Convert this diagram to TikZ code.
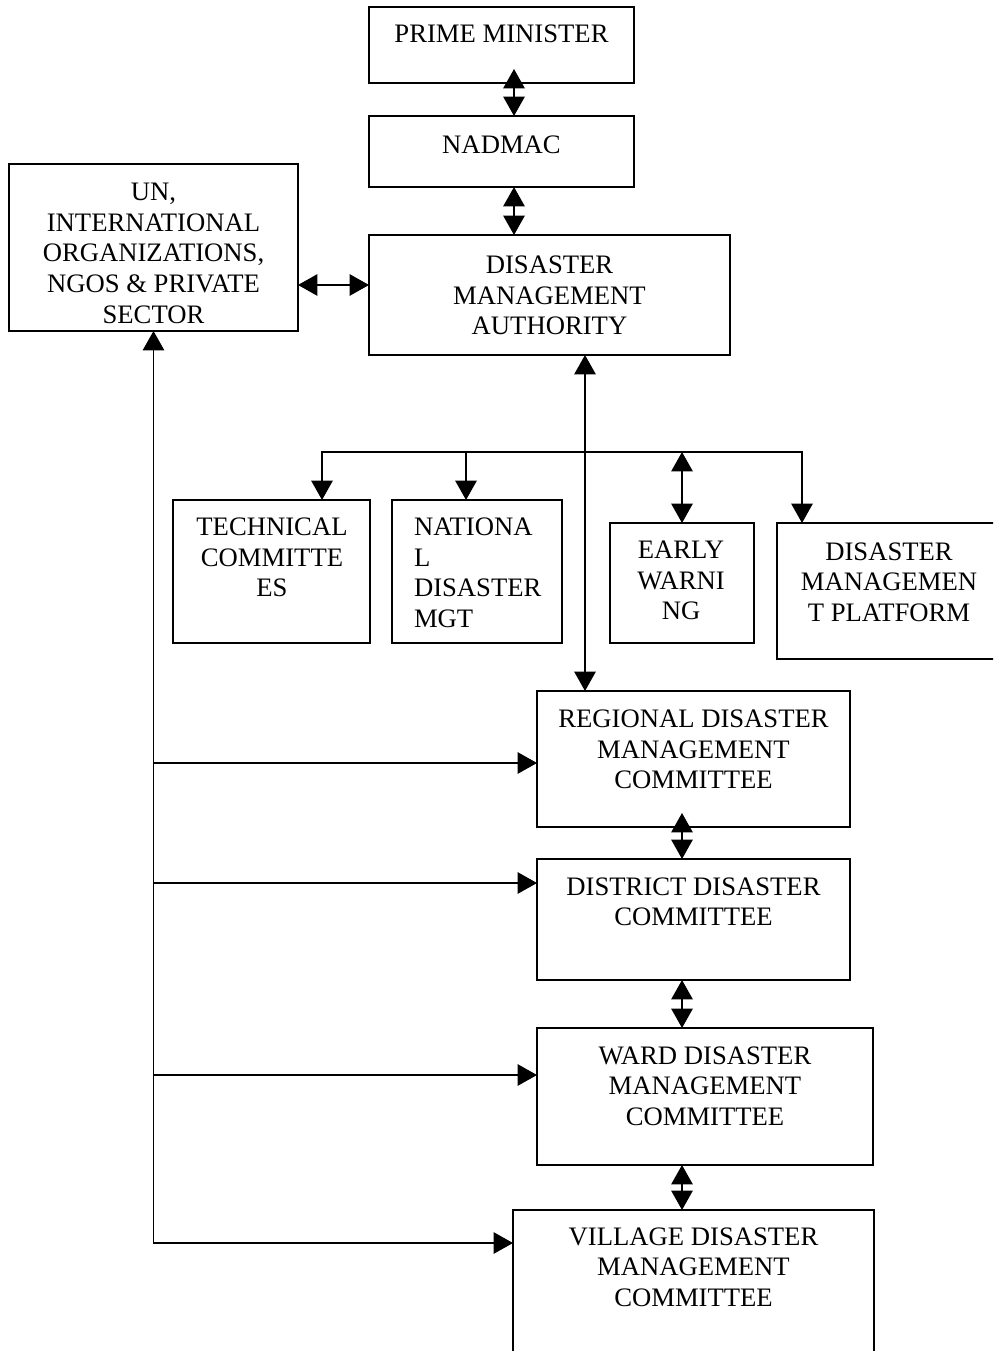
\documentclass[tikz,border=0pt]{standalone}
\usepackage{fontspec}
\setmainfont{Liberation Serif}
\usetikzlibrary{arrows.meta}
\tikzset{
  orgbox/.style={draw, line width=1.3pt, inner sep=0pt, outer sep=0pt},
  txt/.style={font=\fontsize{20}{23}\selectfont, align=center, inner sep=0pt, outer sep=0pt},
  txtl/.style={txt, align=left},
  conn/.style={line width=1.2pt},
  bigtri/.tip={Triangle[length=14.5pt,width=16pt]},
  one/.style={conn, -bigtri},
  both/.style={conn, bigtri-bigtri},
}
\newcommand\orgnode[5]{\node[orgbox, anchor=north west, minimum width={(#4-#2)*0.75pt}, minimum height={(#5-#3)*0.75pt}] (#1) at (#2,#3) {};}
\begin{document}
\begin{tikzpicture}[x=0.75pt,y=-0.75pt]
\useasboundingbox (0,0) rectangle (993,1351);
\clip (0,0) rectangle (993,1351);
% boxes
\orgnode{pm}{369}{7}{634}{83}
\orgnode{nadmac}{369}{116}{634}{187}
\orgnode{dma}{369}{235}{730}{355}
\orgnode{un}{9}{164}{298}{331}
\orgnode{tech}{173}{500}{370}{643}
\orgnode{natl}{392}{500}{562}{643}
\orgnode{early}{610}{523}{754}{643}
\orgnode{dmp}{777}{523}{1001}{659}
\orgnode{regional}{537}{691}{850}{827}
\orgnode{district}{537}{859}{850}{980}
\orgnode{ward}{537}{1028}{873}{1165}
\orgnode{village}{513}{1210}{874}{1380}
% texts
\node[txt, anchor=north] (pmt) at (501.5,25) {PRIME MINISTER};
\node[txt, anchor=north] (nadmact) at (501.5,136) {NADMAC};
\node[txt, anchor=north] (dmat) at (549.5,256) {DISASTER\\MANAGEMENT\\AUTHORITY};
\node[txt, anchor=north] (unt) at (153.5,183) {UN,\\INTERNATIONAL\\ORGANIZATIONS,\\NGOS \& PRIVATE\\SECTOR};
\node[txt, anchor=north] (techt) at (272,518) {TECHNICAL\\COMMITTE\\ES};
\node[txtl, anchor=north west] (natlt) at (414,518) {NATIONA\\L\\DISASTER\\MGT};
\node[txt, anchor=north] (earlyt) at (681,541) {EARLY\\WARNI\\NG};
\node[txt, anchor=north] (dmpt) at (889,542.5) {DISASTER\\MANAGEMEN\\T PLATFORM};
\node[txt, anchor=north] (regionalt) at (693.5,710) {REGIONAL DISASTER\\MANAGEMENT\\COMMITTEE};
\node[txt, anchor=north] (districtt) at (693.5,877.5) {DISTRICT DISASTER\\COMMITTEE};
\node[txt, anchor=north] (wardt) at (705,1046.5) {WARD DISASTER\\MANAGEMENT\\COMMITTEE};
\node[txt, anchor=north] (villaget) at (693.5,1227.5) {VILLAGE DISASTER\\MANAGEMENT\\COMMITTEE};
% connectors
\coordinate (c1) at (514,69);
\draw[both] (c1) -- (c1 |- nadmac.north);
\draw[both] (nadmac.south -| c1) -- (dma.north -| c1);
\coordinate (c2) at (0,285);
\draw[both] (un.east |- c2) -- (dma.west |- c2);
\coordinate (c3) at (585,0);
\draw[both] (dma.south -| c3) -- (regional.north -| c3);
\coordinate (bl) at (322,452);
\coordinate (bn) at (466,452);
\coordinate (be) at (682,452);
\coordinate (br) at (802,452);
\draw[both] (tech.north -| bl) -- (bl) -- (br) -- (dmp.north -| br);
\draw[one] (bn) -- (natl.north -| bn);
\draw[both] (be) -- (early.north -| be);
\coordinate (c4) at (682,813);
\draw[both] (c4) -- (c4 |- district.north);
\draw[both] (district.south -| c4) -- (ward.north -| c4);
\draw[both] (ward.south -| c4) -- (village.north -| c4);
\coordinate (l1) at (153.5,763);
\coordinate (l2) at (153.5,883);
\coordinate (l3) at (153.5,1075);
\coordinate (l4) at (153.5,1243);
\draw[both] (un.south) -- (l4) -- (village.west |- l4);
\draw[one] (l1) -- (regional.west |- l1);
\draw[one] (l2) -- (district.west |- l2);
\draw[one] (l3) -- (ward.west |- l3);
\end{tikzpicture}
\end{document}
